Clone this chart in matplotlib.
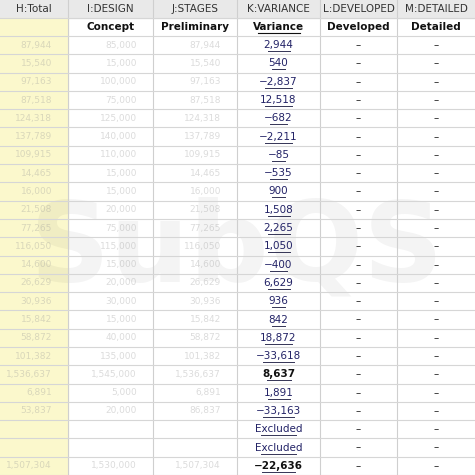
import matplotlib.pyplot as plt
from matplotlib.patches import Rectangle

headers = ["H:Total", "I:DESIGN", "J:STAGES", "K:VARIANCE", "L:DEVELOPED", "M:DETAILED"]
subheaders = ["", "Concept", "Preliminary", "Variance", "Developed", "Detailed"]
col_edges = [0, 68, 153, 237, 320, 397, 475]

total = ["87,944", "15,540", "97,163", "87,518", "124,318", "137,789", "109,915", "14,465",
         "16,000", "21,508", "77,265", "116,050", "14,600", "26,629", "30,936", "15,842",
         "58,872", "101,382", "1,536,637", "6,891", "53,837", "", "", "1,507,304"]
design = ["85,000", "15,000", "100,000", "75,000", "125,000", "140,000", "110,000", "15,000",
          "15,000", "20,000", "75,000", "115,000", "15,000", "20,000", "30,000", "15,000",
          "40,000", "135,000", "1,545,000", "5,000", "20,000", "", "", "1,530,000"]
stages = ["87,944", "15,540", "97,163", "87,518", "124,318", "137,789", "109,915", "14,465",
          "16,000", "21,508", "77,265", "116,050", "14,600", "26,629", "30,936", "15,842",
          "58,872", "101,382", "1,536,637", "6,891", "86,837", "", "", "1,507,304"]
variance = ["2,944", "540", "\u22122,837", "12,518", "\u2212682", "\u22122,211", "\u221285",
            "\u2212535", "900", "1,508", "2,265", "1,050", "\u2212400", "6,629", "936", "842",
            "18,872", "\u221233,618", "8,637", "1,891", "\u221233,163", "Excluded", "Excluded",
            "\u221222,636"]
bold_rows = [18, 23]

H, W = 475, 475
fig = plt.figure(figsize=(4.75, 4.75), dpi=100)
ax = fig.add_axes([0, 0, 1, 1])
ax.set_xlim(0, W)
ax.set_ylim(H, 0)
ax.axis("off")

head_h, sub_h = 18, 18
n = len(variance)
row_h = (H - head_h - sub_h) / n

ax.add_patch(Rectangle((0, 0), W, head_h, color="#e9e9e9", zorder=0))
ax.add_patch(Rectangle((0, head_h), col_edges[1], H, color="#fbf8cc", zorder=0))

# watermark
ax.text(237, 250, "SubQS", fontsize=80, color="#000000", alpha=0.045, ha="center",
        va="center", fontweight="bold", zorder=1)

for i, h in enumerate(headers):
    cx = (col_edges[i] + col_edges[i + 1]) / 2
    ax.text(cx, head_h / 2, h, ha="center", va="center", fontsize=7.5, color="#333333")
    if subheaders[i]:
        ax.text(cx, head_h + sub_h / 2, subheaders[i], ha="center", va="center", fontsize=7.5,
                fontweight="bold", color="#111111")
ax.plot([258, 300], [head_h + sub_h / 2 + 6] * 2, color="#111111", lw=0.8)

for r in range(n):
    cy = head_h + sub_h + (r + 0.5) * row_h
    for c, vals in [(0, total), (1, design), (2, stages)]:
        if vals[r]:
            ax.text(col_edges[c + 1] - 16, cy, vals[r], ha="right", va="center", fontsize=6.5,
                    color="#999999", alpha=0.35)
    bold = r in bold_rows
    ax.text((col_edges[3] + col_edges[4]) / 2, cy, variance[r], ha="center", va="center",
            fontsize=7.5, color="#222266" if not bold else "#111111",
            fontweight="bold" if bold else "normal")
    tw = 4.4 * len(variance[r]) + (2 if bold else 0)
    ax.plot([278.5 - tw / 2, 278.5 + tw / 2], [cy + 6, cy + 6], color="#333355", lw=0.7)
    for c in (4, 5):
        ax.text((col_edges[c] + col_edges[c + 1]) / 2, cy, "\u2013", ha="center", va="center",
                fontsize=7.5, color="#222222")

# grid
for x in col_edges[1:-1]:
    ax.plot([x, x], [0, H], color="#cfcfcf", lw=0.8)
ys = [head_h, head_h + sub_h] + [head_h + sub_h + (r + 1) * row_h for r in range(n)]
for y in ys:
    ax.plot([0, W], [y, y], color="#d6d6d6", lw=0.8)

fig.savefig("out.png", dpi=100)
